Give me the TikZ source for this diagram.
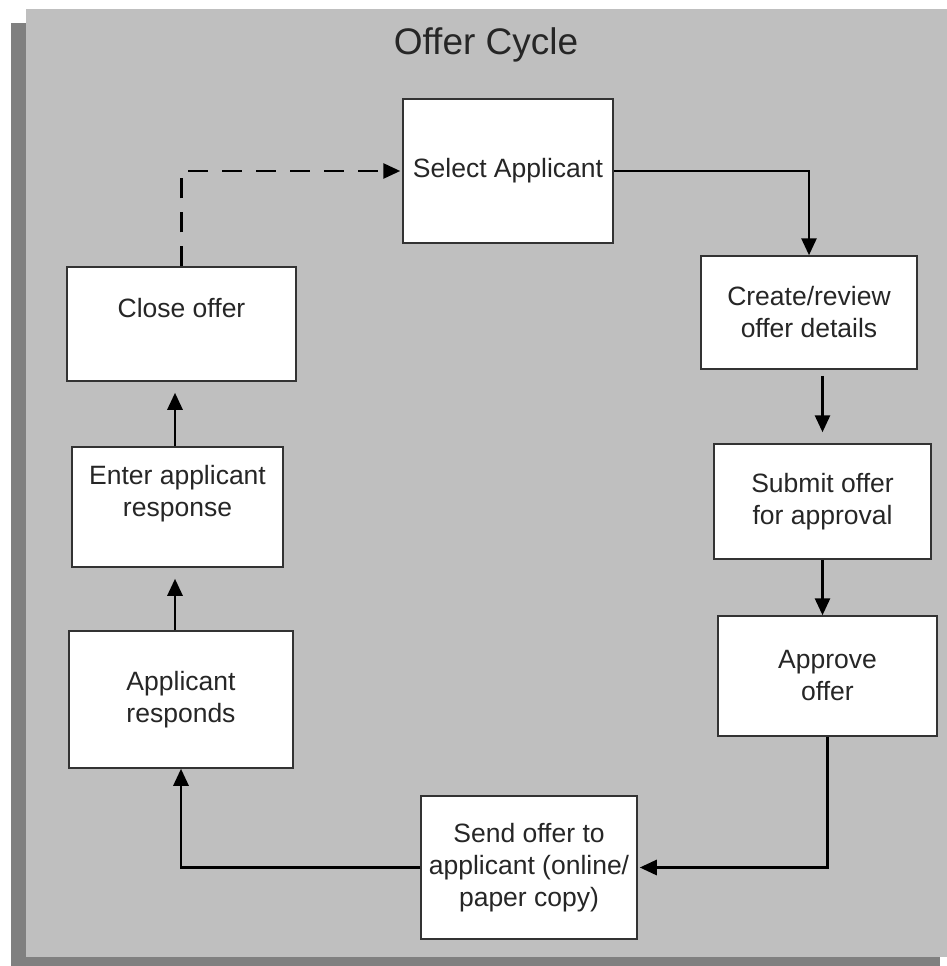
\documentclass[tikz,border=0pt]{standalone}
\usepackage{fontspec}
\setmainfont{Liberation Sans}
\usetikzlibrary{arrows.meta}

\begin{document}
\begin{tikzpicture}[x=1pt,y=-1pt,>={Triangle[length=17pt,width=15pt]},
                step node/.style={rectangle,draw=black!80,line width=1.5pt,fill=white,inner sep=0pt,
                                  align=center,text=black!85,font=\fontsize{26.5}{32}\selectfont},
                flow/.style={->,line width=2.8pt}]

            \useasboundingbox (0,0) rectangle (947,966);
            \fill[black!50] (11,23) rectangle (940,980);
            \fill[black!25] (26,9) rectangle (960,957);

            \node[anchor=base, text=black!85, font=\fontsize{37}{44}\selectfont] (title) at (486,55) {Offer Cycle};

            \node[step node, minimum width=210pt, minimum height=144pt] (sel) at (508,171) {Select Applicant};
            \node[step node, minimum width=216pt, minimum height=113pt] (create) at (809,312.5) {Create/review\\offer details};
            \node[step node, minimum width=217pt, minimum height=115pt] (submit) at (822.5,501.5) {Submit offer\\for approval};
            \node[step node, minimum width=219pt, minimum height=120pt] (approve) at (827.5,676) {Approve\\offer};
            \node[step node, minimum width=216pt, minimum height=143pt] (send) at (529,867.5) {Send offer to\\applicant (online/\\paper copy)};
            \node[step node, minimum width=224pt, minimum height=137pt] (respond) at (181,699.5) {Applicant\\responds};
            \node[step node, minimum width=211pt, minimum height=120pt] (enter) at (177.5,507) {Enter applicant\\response\\\mbox{}};
            \node[step node, minimum width=229pt, minimum height=114pt] (close) at (181.5,324) {Close offer\\\mbox{}};

            \draw[flow] (sel.east) -| (create.north);
            \draw[flow, shorten <=6pt, shorten >=11pt] (create.south -| submit.north) -- (submit.north);
            \draw[flow] (submit.south) -- (submit.south |- approve.north);
            \draw[flow, shorten >=2pt] (approve.south) |- (send.east);
            \draw[flow] (send.west) -| (respond.south);
            \draw[flow, shorten >=11pt] (respond.north -| 175,0) -- (enter.south -| 175,0);
            \draw[flow, shorten >=11pt] (enter.north -| 175,0) -- (close.south -| 175,0);
            \draw[flow, dash pattern=on 20pt off 14pt, shorten >=2pt] (close.north) |- (sel.west);

        \end{tikzpicture}
\end{document}
